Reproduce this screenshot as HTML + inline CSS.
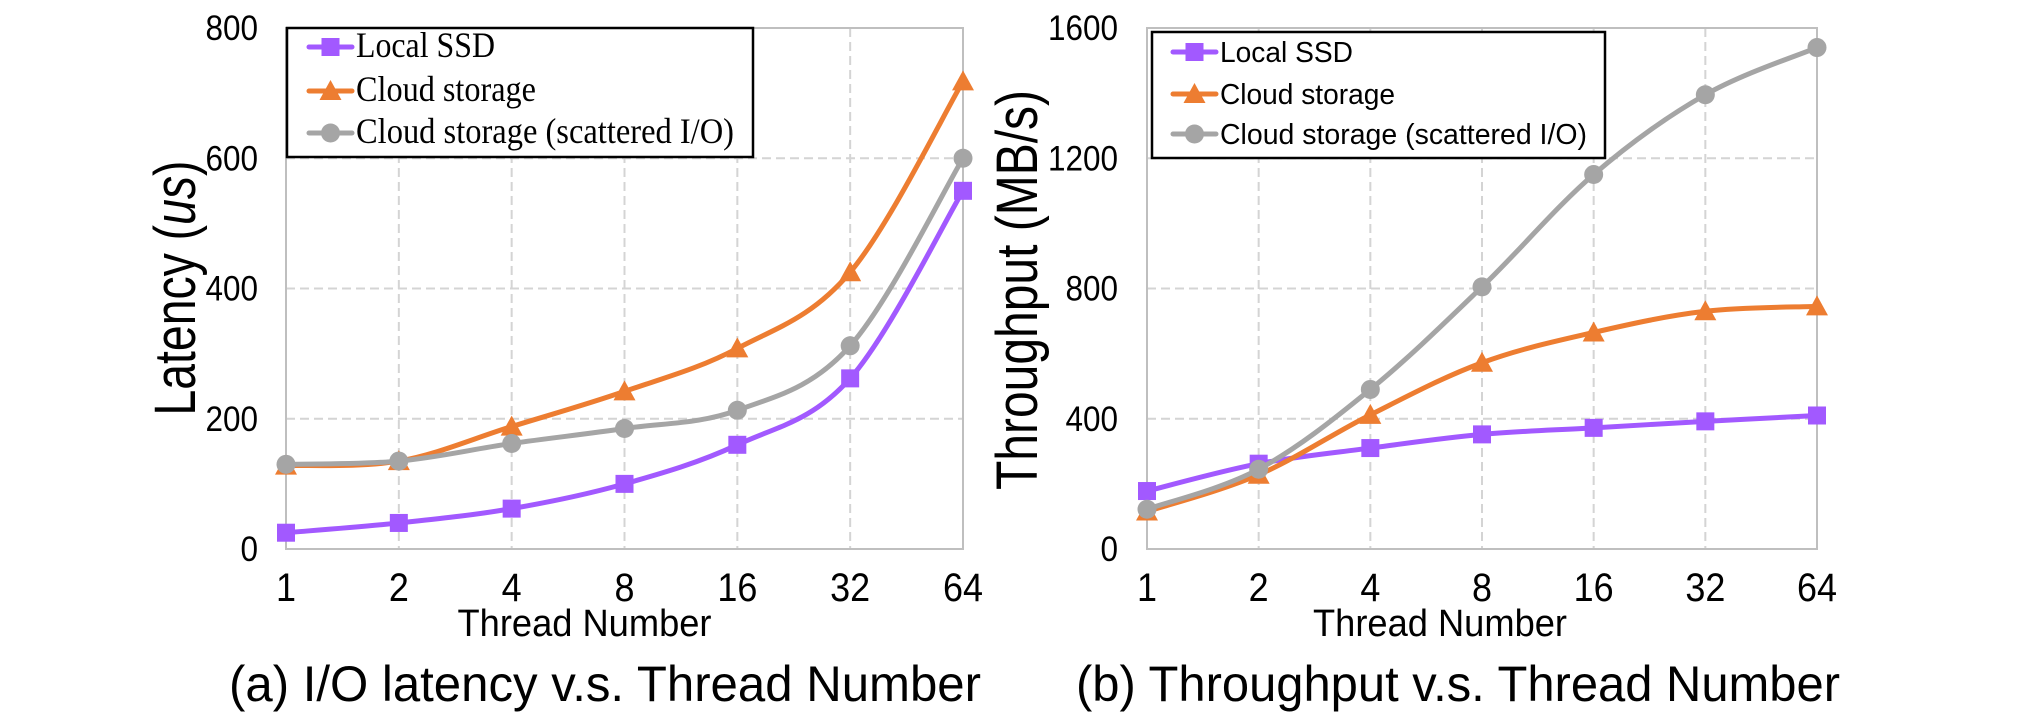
<!DOCTYPE html>
<html><head><meta charset="utf-8"><style>
html,body{margin:0;padding:0;background:#fff;}
svg{display:block;}
</style></head><body>
<svg id="chart" width="2037" height="720" viewBox="0 0 2037 720" xmlns="http://www.w3.org/2000/svg" font-family="'Liberation Sans', Arial, sans-serif"></svg>
<script>
const categories = ["1","2","4","8","16","32","64"];
const latencyTicks = [0,200,400,600,800];
const latencySSD = [25,40,62,100,160,262,550];
const latencyCloud = [128,135,188,242,308,425,718];
const latencyScattered = [130,135,162,185,213,312,600];
const throughputTicks = [0,400,800,1200,1600];
const throughputSSD = [178,262,310,352,372,392,410];
const throughputCloud = [115,228,412,572,665,730,745];
const throughputScattered = [122,245,490,805,1150,1395,1540];
const seriesNames = ["Local SSD","Cloud storage","Cloud storage (scattered I/O)"];

const NS="http://www.w3.org/2000/svg";
const svg=document.getElementById('chart');
const colors=["#a259ff","#ed7d31","#a5a5a5"];
const markers=["square","triangle","circle"];
function mk(tag,attrs,parent){const e=document.createElementNS(NS,tag);for(const k in attrs)e.setAttribute(k,attrs[k]);(parent||svg).appendChild(e);return e;}

function marker(g,type,x,y,c){
  let e;
  if(type==="square"){e=mk('rect',{x:x-9,y:y-9,width:18,height:18,fill:c},g);}
  else if(type==="triangle"){e=mk('polygon',{points:`${x},${y-11} ${x+11},${y+9} ${x-11},${y+9}`,fill:c},g);}
  else {e=mk('circle',{cx:x,cy:y,r:9.5,fill:c},g);}
  return e;
}
function smoothPath(pts){
  let d=`M${pts[0][0]},${pts[0][1]}`;
  for(let i=0;i<pts.length-1;i++){
    const p0=pts[Math.max(0,i-1)],p1=pts[i],p2=pts[i+1],p3=pts[Math.min(pts.length-1,i+2)];
    const t=0.17*2;
    const c1=[p1[0]+(p2[0]-p0[0])*t/2,p1[1]+(p2[1]-p0[1])*t/2];
    const c2=[p2[0]-(p3[0]-p1[0])*t/2,p2[1]-(p3[1]-p1[1])*t/2];
    d+=` C${c1[0]},${c1[1]} ${c2[0]},${c2[1]} ${p2[0]},${p2[1]}`;
  }
  return d;
}

function panel(o){
  const g=mk('g',{});
  
  
  const xs=i=>o.x0+(o.x1-o.x0)*i/(categories.length-1);
  const ys=v=>o.y0-(o.y0-o.y1)*v/o.ticks[o.ticks.length-1];
  o.ticks.forEach((t,i)=>{
    if(i>0){const l=mk('line',{x1:o.x0,x2:o.x1,y1:ys(t),y2:ys(t),stroke:"#d4d4d4","stroke-width":2,"stroke-dasharray":"9,5"},g);
      }
    const s=String(t);
    const tx=mk('text',{x:o.tickX,y:ys(t)+12,"text-anchor":"end","font-size":35,fill:"#000",textLength:s.length*17.5,lengthAdjust:"spacingAndGlyphs"},g);
    tx.textContent=s;
    
  });
  categories.forEach((c,i)=>{
    if(i>0&&i<categories.length-1){const l=mk('line',{x1:xs(i),x2:xs(i),y1:o.y1,y2:o.y0,stroke:"#d4d4d4","stroke-width":2,"stroke-dasharray":"9,5"},g);
      }
    const tx=mk('text',{x:xs(i),y:601,"text-anchor":"middle","font-size":40,fill:"#000",textLength:c.length*20,lengthAdjust:"spacingAndGlyphs"},g);
    tx.textContent=c;
    
  });
  const fr=mk('rect',{x:o.x0,y:o.y1,width:o.x1-o.x0,height:o.y0-o.y1,fill:"none",stroke:"#bfbfbf","stroke-width":2},g);
  
  o.series.forEach((s,si)=>{
    const sg=mk('g',{},g);
    
    
    const pts=s.map((v,i)=>[xs(i),ys(v)]);
    const p=mk('path',{d:smoothPath(pts),fill:"none",stroke:colors[si],"stroke-width":5,"stroke-linejoin":"round"},sg);
    
    pts.forEach(pt=>{const m=marker(sg,markers[si],pt[0],pt[1],colors[si]);
      });
  });
  const lg=mk('g',{},g);
  
  const lb=mk('rect',{x:o.leg.x,y:o.leg.y,width:o.leg.w,height:o.leg.h,fill:"#fff",stroke:"#000","stroke-width":2.5},lg);
  
  seriesNames.forEach((n,i)=>{
    const by=o.leg.base[i], cy=by-10;
    const eg=mk('g',{},lg);
    
    mk('line',{x1:o.leg.lx0,x2:o.leg.lx1,y1:cy,y2:cy,stroke:colors[i],"stroke-width":5,"stroke-linecap":"round"},eg);
    marker(eg,markers[i],(o.leg.lx0+o.leg.lx1)/2,cy,colors[i]);
    const t=mk('text',{x:o.leg.tx,y:by,"font-size":o.leg.fs,"font-family":o.leg.ff,fill:"#000",textLength:o.leg.tl[i],lengthAdjust:"spacingAndGlyphs"},eg);
    t.textContent=n;
  });
  const yt=mk('text',{transform:`translate(${o.ytX},${o.ytC}) rotate(-90)`,"text-anchor":"middle","font-size":58,fill:"#000",textLength:o.ytL,lengthAdjust:"spacingAndGlyphs"},g);
  
  if(o.ytItalic){yt.innerHTML='Latency (<tspan font-style="italic">us</tspan>)';}else{yt.textContent=o.yt;}
  const xt=mk('text',{x:(o.x0+o.x1)/2-40+o.xtOff,y:636,"text-anchor":"middle","font-size":38,fill:"#000",textLength:254,lengthAdjust:"spacingAndGlyphs"},g);
  xt.textContent="Thread Number";
  
  const cp=mk('text',{x:o.capX,y:701,"font-size":50,fill:"#000",textLength:o.capL,lengthAdjust:"spacingAndGlyphs"},g);
  cp.textContent=o.cap;
  
}

panel({name:'latency-panel',x0:286,x1:963,y0:549,y1:28,ticks:latencyTicks,tickX:258,
  series:[latencySSD,latencyCloud,latencyScattered],
  leg:{x:287,y:28,w:466,h:129,base:[57,101,143],lx0:309,lx1:352,tx:356,fs:36,ff:"'Liberation Serif', 'Times New Roman', serif",tl:[139,180,378]},
  ytX:195,ytC:288,ytL:255,ytItalic:true,xtOff:0,
  cap:"(a) I/O latency v.s. Thread Number",capX:229,capL:752});
panel({name:'throughput-panel',x0:1147,x1:1817,y0:549,y1:28,ticks:throughputTicks,tickX:1118,
  series:[throughputSSD,throughputCloud,throughputScattered],
  leg:{x:1152,y:32,w:453,h:126,base:[62,104,144],lx0:1173,lx1:1216,tx:1220,fs:29,ff:"'Liberation Sans', Arial, sans-serif",tl:[133,175,367]},
  ytX:1037,ytC:290,ytL:400,ytItalic:false,yt:"Throughput (MB/s)",xtOff:-2,
  cap:"(b) Throughput v.s. Thread Number",capX:1076,capL:764});
</script>
</body></html>
